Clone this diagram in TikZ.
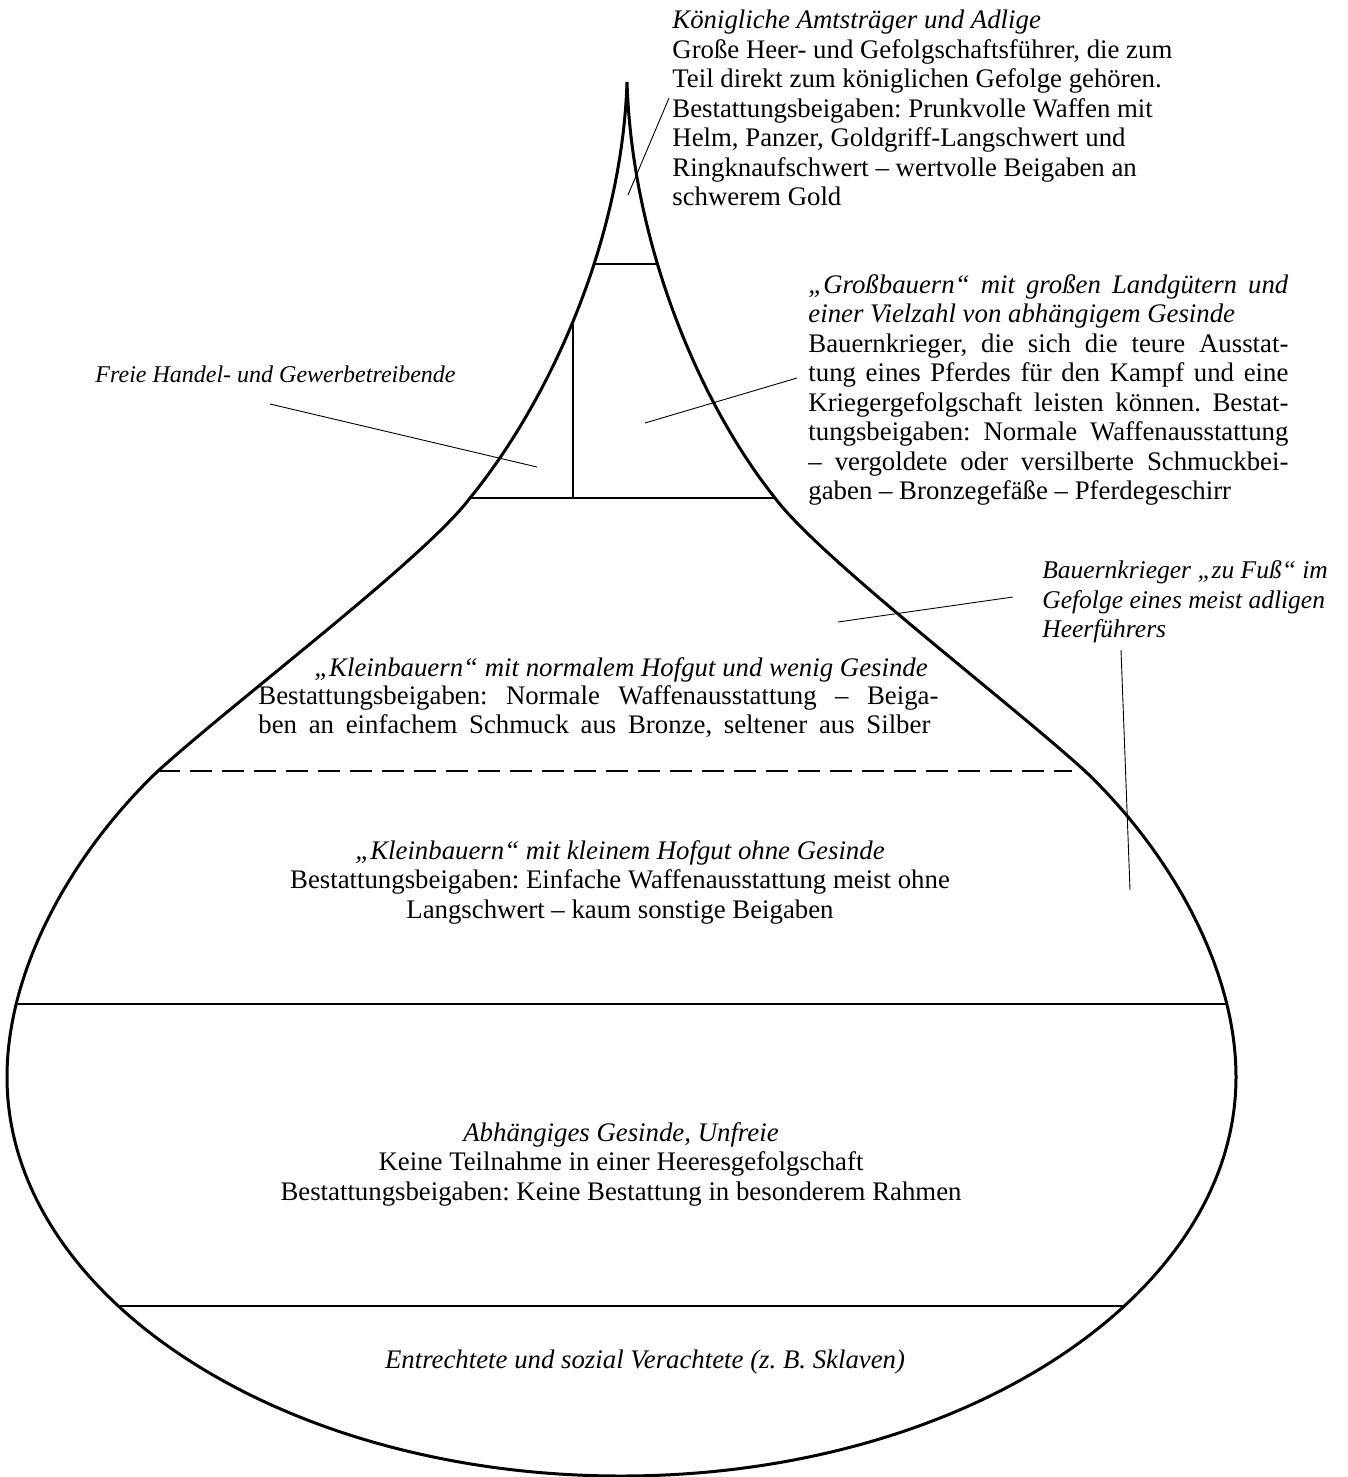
\documentclass[tikz,border=0pt]{standalone}
\usepackage{fontspec}
\setmainfont{Liberation Serif}
\newcommand{\jline}[2]{\makebox[#1][s]{#2}}
\begin{document}
\frenchspacing
\begin{tikzpicture}[x=0.5pt,y=-0.5pt,
  outline/.style={line width=1.5pt, line join=round},
  divider/.style={line width=1.4pt},
  dashdiv/.style={line width=1.4pt, dash pattern=on 11pt off 5pt},
  leader/.style={line width=0.45pt},
  txt/.style={inner sep=0pt, font=\fontsize{13.4}{14.75}\selectfont},
  lbl/.style={inner sep=0pt, font=\fontsize{12.75}{14.9}\selectfont},
  txtl/.style={txt, align=left, anchor=north west},
  txtc/.style={txt, align=center, anchor=north}]
\useasboundingbox (0,0) rectangle (1348,1477);

\coordinate (T) at (627,82);
\coordinate (P1) at (470,498);
\coordinate (Q) at (158,771);
\coordinate (L) at (7,1077);
\coordinate (B) at (621,1476);
\coordinate (Lr) at (1236,1077);
\coordinate (Qr) at (1085,771);
\coordinate (P1r) at (775,498);

% outline of the onion shape
\draw[outline] (T) .. controls (622,240) and (550,400) .. (P1)
  .. controls (425,558) and (235,701) .. (Q)
  .. controls (74,851) and (7,967) .. (L)
  .. controls (7,1297) and (282,1476) .. (B)
  .. controls (960,1476) and (1236,1297) .. (Lr)
  .. controls (1236,967) and (1169,851) .. (Qr)
  .. controls (1008,701) and (820,558) .. (P1r)
  .. controls (697,400) and (632,240) .. (T);

\begin{scope}
\clip (T) .. controls (622,240) and (550,400) .. (P1)
  .. controls (425,558) and (235,701) .. (Q)
  .. controls (74,851) and (7,967) .. (L)
  .. controls (7,1297) and (282,1476) .. (B)
  .. controls (960,1476) and (1236,1297) .. (Lr)
  .. controls (1236,967) and (1169,851) .. (Qr)
  .. controls (1008,701) and (820,558) .. (P1r)
  .. controls (697,400) and (632,240) .. (T);
\coordinate (h1a) at (0,264);  \coordinate (h1b) at (1348,264);
\coordinate (h2a) at (0,498);  \coordinate (h2b) at (1348,498);
\coordinate (h3a) at (0,1004); \coordinate (h3b) at (1348,1004);
\coordinate (h4a) at (0,1306); \coordinate (h4b) at (1348,1306);
\coordinate (v1a) at (573,200); \coordinate (v1b) at (573,498);
\draw[divider] (h1a) -- (h1b);
\draw[divider] (h2a) -- (h2b);
\draw[divider] (h3a) -- (h3b);
\draw[divider] (h4a) -- (h4b);
\draw[divider] (v1a) -- (v1b);
\end{scope}

\coordinate (d1b) at (1072,771);
\draw[dashdiv] (Q) -- (d1b);

% texts
\node[txtl] (ntop) at (672,10) {\itshape Königliche Amtsträger und Adlige\\
Große Heer- und Gefolgschaftsführer, die zum\\
Teil direkt zum königlichen Gefolge gehören.\\
Bestattungsbeigaben: Prunkvolle Waffen mit\\
Helm, Panzer, Goldgriff-Langschwert und\\
Ringknaufschwert – wertvolle Beigaben an\\
schwerem Gold};

\node[txtl] (ngross) at (808,274) {\jline{240pt}{\itshape „Großbauern“ mit großen Landgütern und}\\
\itshape einer Vielzahl von abhängigem Gesinde\\
\jline{240pt}{Bauernkrieger, die sich die teure Ausstat-}\\
\jline{240pt}{tung eines Pferdes für den Kampf und eine}\\
\jline{240pt}{Kriegergefolgschaft leisten können. Bestat-}\\
\jline{240pt}{tungsbeigaben: Normale Waffenausstattung}\\
\jline{240pt}{– vergoldete oder versilberte Schmuckbei-}\\
gaben – Bronzegefäße – Pferdegeschirr};

\node[lbl, font=\fontsize{12}{14.9}\selectfont, anchor=east] (nfreie) at (456,374) {\itshape Freie Handel- und Gewerbetreibende};

\node[lbl, align=left, anchor=north west] (nfuss) at (1042,560) {\itshape Bauernkrieger „zu Fuß“ im\\
\itshape Gefolge eines meist adligen\\
\itshape Heerführers};

\node[txtc] (nklein1) at (621,657) {\itshape „Kleinbauern“ mit normalem Hofgut und wenig Gesinde};
\node[txtl] (nklein1b) at (258,685) {\jline{340pt}{Bestattungsbeigaben: Normale Waffenausstattung – Beiga-}\\
\jline{336pt}{ben an einfachem Schmuck aus Bronze, seltener aus Silber}};

\node[txtc] (nklein2) at (620,840) {\itshape „Kleinbauern“ mit kleinem Hofgut ohne Gesinde\\
Bestattungsbeigaben: Einfache Waffenausstattung meist ohne\\
Langschwert – kaum sonstige Beigaben};

\node[txtc] (nabh) at (621,1122) {\itshape Abhängiges Gesinde, Unfreie\\
Keine Teilnahme in einer Heeresgefolgschaft\\
Bestattungsbeigaben: Keine Bestattung in besonderem Rahmen};

\node[txt, anchor=center] (nentr) at (645,1362) {\itshape Entrechtete und sozial Verachtete (z. B. Sklaven)};

% leader lines
\coordinate (ltop1) at (669,98);   \coordinate (ltop2) at (628,195);
\coordinate (lfr1) at (270,404);   \coordinate (lfr2) at (537,467);
\coordinate (lgr1) at (797,378);   \coordinate (lgr2) at (645,423);
\coordinate (lfu1) at (1013,597);  \coordinate (lfu2) at (838,622);
\coordinate (lfu3) at (1121,650);  \coordinate (lfu4) at (1130,890);
\draw[leader] (ltop1) -- (ltop2);
\draw[leader] (lfr1) -- (lfr2);
\draw[leader] (lgr1) -- (lgr2);
\draw[leader] (lfu1) -- (lfu2);
\draw[leader] (lfu3) -- (lfu4);
\end{tikzpicture}
\end{document}
